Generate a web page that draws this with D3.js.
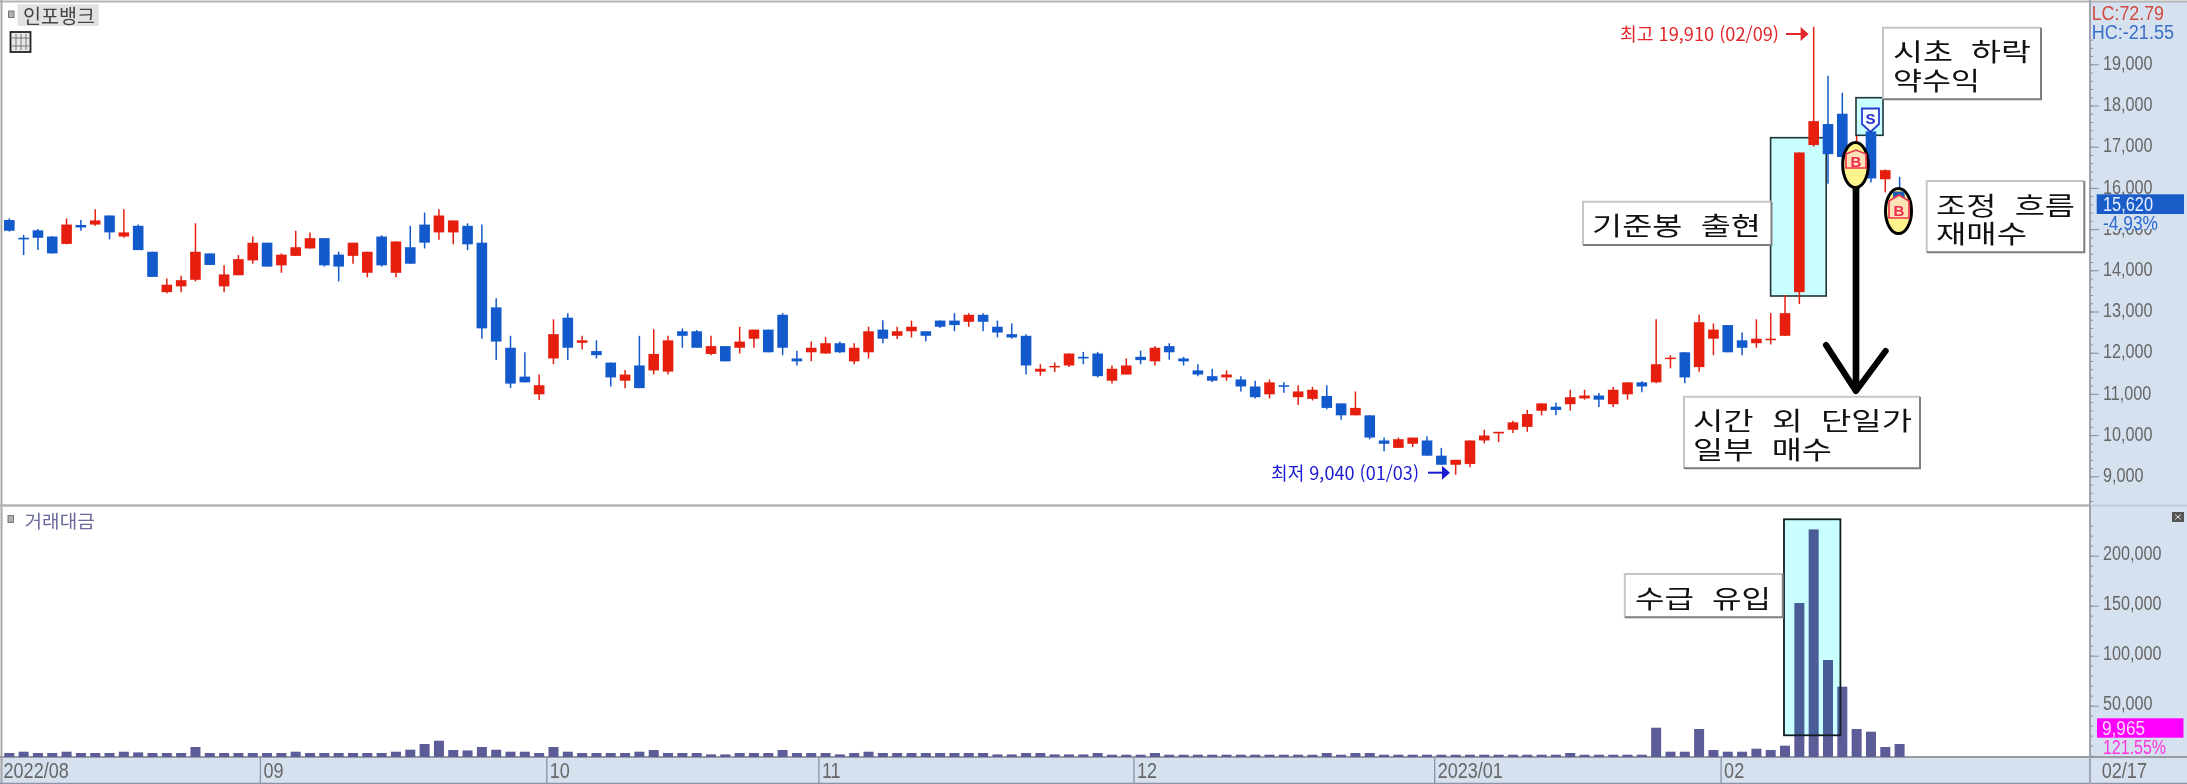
<!DOCTYPE html>
<html lang="ko"><head><meta charset="utf-8">
<script src="https://cdnjs.cloudflare.com/ajax/libs/d3/7.8.5/d3.min.js"></script>
<style>html,body{margin:0;padding:0;background:#fff;overflow:hidden}svg{display:block}</style>
</head><body><svg id="c" width="2187" height="784"></svg>
<script>
const opens=[15220,14790,14970,14820,14640,15100,15110,15330,14820,15080,14450,13470,13610,13770,14410,13610,13880,14240,14670,14120,14350,14530,14780,14380,14350,13940,14820,13940,14560,15110,14920,14920,15080,14670,13100,12120,11420,10990,11860,12850,12240,12040,11760,11320,11690,11570,11540,12520,12520,11970,12160,12120,12340,12560,12920,11860,12010,11980,12230,11790,12010,12560,12410,12520,12520,12780,12780,12750,12920,12630,12450,12410,11540,11650,11690,11900,11980,11320,11470,11900,11790,12160,11860,11570,11430,11400,11350,11180,10990,11210,10920,10880,10950,10770,10480,10480,9870,9690,9790,9870,9500,9280,9300,9870,10040,10130,10200,10590,10690,10750,10890,10960,10750,10990,11280,11280,11850,12010,11650,12340,12670,12300,12230,12310,12410,13470,17040,17550,17800,16560,17370,16210,15970];
const closes=[14960,14750,14790,14410,15110,15040,15210,14920,14920,14490,13840,13650,13760,14450,14130,13900,14270,14670,14090,14380,14560,14780,14120,14090,14670,14450,14120,14700,14160,14670,15330,15210,14630,12590,12270,11250,11280,11210,12450,12120,12300,11940,11400,11470,11140,11970,12300,12410,12120,12160,11790,12270,12560,12010,12120,11790,12120,12230,12010,12120,12520,12340,12520,12630,12410,12630,12670,12920,12750,12490,12370,11690,11610,11680,11980,11860,11430,11610,11690,11820,12120,12010,11790,11470,11320,11470,11180,10920,11280,11180,11060,11100,10660,10480,10660,9940,9790,9900,9940,9500,9280,9400,9870,9990,10080,10310,10510,10770,10610,10920,10960,10860,11100,11280,11180,11720,11880,11400,12740,12560,12010,12120,12340,12340,12960,16860,17620,16820,16750,17000,16230,16430,15620];
const highs=[15260,14860,15000,14830,15260,15220,15480,15330,15480,15110,14450,13800,13870,15140,14410,14120,14370,14820,14670,14410,14960,14920,14780,14450,14670,14450,14850,14700,15080,15400,15480,15210,15140,15110,13320,12410,12010,11470,12810,12960,12410,12300,11760,11580,12410,12570,12410,12590,12550,12410,12160,12630,12560,12560,12960,12050,12270,12380,12270,12230,12630,12790,12630,12780,12520,12780,12960,12960,12960,12780,12710,12450,11720,11760,11980,12020,12020,11690,11860,12050,12160,12230,11900,11720,11610,11570,11430,11320,11350,11280,11210,11170,11210,10770,11060,10480,9940,9940,9940,9970,9690,9400,9870,10130,10080,10350,10610,10770,10790,11100,11100,11020,11170,11280,11310,12810,11940,12010,12920,12710,12670,12490,12810,12960,13400,16860,19910,18720,18310,17260,17490,16450,16270];
const lows=[14940,14370,14490,14410,14630,14960,15080,14750,14790,14490,13840,13440,13470,13730,14130,13470,13880,14160,14090,13940,14350,14530,14090,13730,14160,13830,14090,13830,14160,14530,14740,14630,14490,12340,11820,11140,11280,10850,11720,11820,12080,11860,11180,11140,11140,11470,11470,12120,12120,11940,11790,11980,12120,12010,11940,11690,11790,11980,11990,11720,11860,12230,12330,12370,12270,12600,12520,12630,12520,12370,12340,11470,11440,11530,11650,11720,11400,11250,11470,11720,11690,11830,11690,11430,11290,11320,11060,10890,10890,11030,10730,10840,10630,10370,10480,9900,9610,9690,9710,9500,9280,9040,9220,9800,9830,10050,10080,10480,10480,10600,10860,10680,10680,10860,11040,11260,11620,11260,11540,11940,12010,11940,12120,12200,12410,13180,17000,16100,16560,16400,16130,15890,15620];
const volumes=[2700,4000,2700,2700,4000,2700,2700,2700,4000,3300,2700,2700,2700,8700,2700,2700,2700,2700,2700,2700,4000,2700,2700,2700,2700,2700,2700,4000,6000,11700,15000,5700,5300,8700,6000,4000,4000,2700,8700,4000,2700,2700,2700,2700,4000,5700,2700,2700,2700,1300,1300,2700,2700,2700,5700,2700,2700,2700,1300,2700,4000,2700,2700,2700,2700,2700,2700,2700,2700,1300,1300,2700,2700,1300,1300,1300,2700,1000,1000,1000,2700,1000,1000,1000,1000,1000,1000,1000,1000,1000,1000,1000,2700,1000,2700,2700,1000,1000,1000,1000,1000,1000,1000,1000,1000,1000,1000,1000,1000,2700,1000,1000,1000,1000,1000,28000,4000,4000,26700,5700,4000,4000,7000,5700,10000,152700,226300,95700,69000,26700,24000,8700,11700];
const monthStarts=[18,38,57,79,100,120];
const monthLabels=["09","10","11","12","2023/01","02"];
const firstLabel="2022/08", lastLabel="02/17";
const priceTicks=[9000,10000,11000,12000,13000,14000,15000,16000,17000,18000,19000];
const volumeTicks=[50000,100000,150000,200000];

const UI='"Liberation Sans",Arial,sans-serif', KR='"Noto Sans CJK KR","Noto Sans",sans-serif';
const RED='#e51e0e', BLUE='#1259cc', AXBG='#d6e1f0', TXT='#666';
const GAP='\u00a0\u00a0';
const svg=d3.select('#c');
const x=d3.scaleLinear().domain([0,132]).range([9.3,1899.6]);
const y=d3.scaleLinear().domain([9000,19000]).range([476.3,64.3]);
const yv=d3.scaleLinear().domain([0,230000]).range([755.7,525.7]);

// frame
svg.append('rect').attr('x',2090).attr('y',2).attr('width',97).attr('height',755).attr('fill',AXBG);
svg.append('rect').attr('x',0).attr('y',757).attr('width',2187).attr('height',26).attr('fill',AXBG);
const ln=(a,b,c,d,col,w)=>svg.append('line').attr('x1',a).attr('y1',b).attr('x2',c).attr('y2',d).attr('stroke',col).attr('stroke-width',w);
ln(0,1.5,2187,1.5,'#b4b4b4',2); ln(1.5,0,1.5,783,'#a8a8a8',2);
ln(0,505.5,2090,505.5,'#b4b4b4',2.5); ln(2090,505.5,2187,505.5,'#b9c3d2',1.5);
ln(0,757,2187,757,'#9a9aa4',2); ln(0,783.5,2187,783.5,'#8a93a4',1.5); ln(2090,0,2090,784,'#a0a4b0',2);

function txt(g,x1,x2,cy,s,size,fill,font,weight){
  const t=g.append('text').attr('x',x1).attr('y',cy).attr('dominant-baseline','central')
   .attr('font-family',font||KR).attr('font-size',size).attr('fill',fill).attr('font-weight',weight||400).text(s);
  if(x2!=null) t.attr('textLength',x2-x1).attr('lengthAdjust','spacingAndGlyphs');
  return t;
}
const root=svg.append('g');

// cyan highlight boxes beneath candles
function cyan(a,b,w,h){root.append('rect').attr('x',a).attr('y',b).attr('width',w).attr('height',h).attr('fill','#c9ffff').attr('stroke','#20343a').attr('stroke-width',1.6);}
cyan(1770.6,137.7,55.6,158.3);
cyan(1856,97.7,27,37.6);

// candles
const idx=d3.range(opens.length);
const cw=10.6;
const cg=root.append('g');
cg.selectAll('line').data(idx).join('line')
 .attr('x1',i=>x(i)).attr('x2',i=>x(i)).attr('y1',i=>y(highs[i])).attr('y2',i=>y(lows[i]))
 .attr('stroke',i=>closes[i]>=opens[i]?RED:BLUE).attr('stroke-width',1.5);
cg.selectAll('rect').data(idx).join('rect')
 .attr('x',i=>x(i)-cw/2).attr('width',cw)
 .attr('y',i=>y(Math.max(opens[i],closes[i])))
 .attr('height',i=>Math.max(1.5,Math.abs(y(opens[i])-y(closes[i]))))
 .attr('fill',i=>closes[i]>=opens[i]?RED:BLUE);

// volume bars + multiply box
root.append('g').selectAll('rect').data(idx).join('rect')
 .attr('x',i=>x(i)-5).attr('width',10)
 .attr('y',i=>yv(volumes[i])).attr('height',i=>757-yv(volumes[i])).attr('fill','#5c5c98');
root.append('rect').attr('x',1784).attr('y',519.3).attr('width',56.4).attr('height',216)
 .attr('fill','#c9ffff').style('mix-blend-mode','multiply');
root.append('rect').attr('x',1784).attr('y',519.3).attr('width',56.4).attr('height',216)
 .attr('fill','none').attr('stroke','#101c20').attr('stroke-width',1.8);

// axes
function ax(scale,vals,size,labels,tx,shift){
  const a=d3.axisRight(scale).tickValues(vals).tickSize(size).tickSizeOuter(0).tickPadding(4)
    .tickFormat(labels?d3.format(','):()=>'');
  const g=svg.append('g').attr('transform',`translate(${tx},0)`).call(a);
  g.select('.domain').remove();
  g.selectAll('line').attr('stroke','#8a8f9c').attr('stroke-width',1);
  g.selectAll('text').attr('font-family',UI).attr('font-size',19.5).attr('fill',TXT).attr('lengthAdjust','spacingAndGlyphs')
   .attr('y',shift||0)
   .attr('textLength',function(){return this.getComputedTextLength()*0.83;});
  return g;
}
ax(y,d3.range(8400,19800,200),3,false,2090);
ax(y,priceTicks,9,true,2090,-1);
ax(yv,d3.range(0,240000,10000),3,false,2090);
ax(yv,volumeTicks,9,true,2090,-2.3);

// date axis
const dAxis=d3.axisBottom(d3.scaleLinear().domain([0,132]).range([x(-0.5),x(131.5)]))
  .tickValues(monthStarts).tickSize(26).tickSizeOuter(0).tickPadding(0)
  .tickFormat((d,i)=>monthLabels[i]);
const dg=svg.append('g').attr('transform','translate(0,757)').call(dAxis);
dg.select('.domain').remove();
dg.selectAll('line').attr('stroke','#8a93a4').attr('stroke-width',1.3);
dg.selectAll('text').attr('font-family',UI).attr('font-size',22).attr('fill',TXT)
  .attr('text-anchor','start').attr('x',3).attr('y',13).attr('dy',0).attr('dominant-baseline','central')
  .attr('lengthAdjust','spacingAndGlyphs').attr('textLength',function(){return this.getComputedTextLength()*0.82;});
txt(svg,3.5,68.8,770,firstLabel,22,TXT,UI);
txt(svg,2101.7,2147,770,lastLabel,22,TXT,UI);

// right-hand readouts
txt(svg,2091.7,2164,13.3,'LC:72.79',19.5,'#d24a3c',UI);
txt(svg,2091.7,2174,31.7,'HC:-21.55',19.5,'#3a6fc8',UI);
svg.append('rect').attr('x',2096.7).attr('y',214).attr('width',87.3).attr('height',15).attr('fill',AXBG);
svg.append('rect').attr('x',2096.7).attr('y',194.3).attr('width',87.3).attr('height',19.7).attr('fill','#1a5dc8');
txt(svg,2103,2153,204,'15,620',19.5,'#e8f0ff',UI);
txt(svg,2103,2158,222.5,'-4.93%',19.5,'#2a6ad0',UI);
svg.append('rect').attr('x',2097).attr('y',718.3).attr('width',86.5).attr('height',19.4).attr('fill','#ff00ff');
txt(svg,2102,2145,728,'9,965',19.5,'#ffd6ff',UI);
txt(svg,2103,2166,746.7,'121.55%',19.5,'#ff33dd',UI);
svg.append('rect').attr('x',2172).attr('y',512).attr('width',12).attr('height',10).attr('fill','#555');
svg.append('path').attr('d','M2175,514.5l6,5m0,-5l-6,5').attr('stroke','#ddd').attr('stroke-width',1);

// panel titles
const sq=(a,b,w,h)=>svg.append('rect').attr('x',a).attr('y',b).attr('width',w).attr('height',h).attr('fill','#b0b0b0').attr('stroke','#777');
sq(8.5,11,5.5,6.5);
svg.append('rect').attr('x',17.7).attr('y',4.3).attr('width',81).attr('height',21.7).attr('fill','#e2e2e2');
txt(svg,23,95,15,'인포뱅크',20,'#444');
svg.append('rect').attr('x',10.5).attr('y',32).attr('width',20).attr('height',20).attr('fill','#e8e8e8').attr('stroke','#222').attr('stroke-width',1.8);
svg.append('path').attr('d','M16,34V50M21,34V50M26,34V50M12,38H29M12,46H29').attr('stroke','#777').attr('stroke-width',1).attr('fill','none');
sq(8,515.5,5.5,7);
txt(svg,24.6,94.7,519.5,'거래대금',18,'#6a6a9a');

// high/low labels
function arrow(a,b,yy,col){
  svg.append('path').attr('d',`M${a},${yy}H${b-6}`).attr('stroke',col).attr('stroke-width',2);
  svg.append('path').attr('d',`M${b-8},${yy-7}L${b},${yy}L${b-8},${yy+7}Z`).attr('fill',col);
}
txt(svg,1620,1779,33,'최고 19,910 (02/09)',18,'#e2262c');
arrow(1786,1808.6,34,'#e2262c');
txt(svg,1271,1419,471.7,'최저 9,040 (01/03)',18,'#1a1ad0');
arrow(1428,1450,472.7,'#1a1ad0');

// note boxes
function note(a,b,a2,b2,lines){
  svg.append('rect').attr('x',a).attr('y',b).attr('width',a2-a).attr('height',b2-b).attr('fill','#fff');
  svg.append('path').attr('d',`M${a},${b2}V${b}H${a2}`).attr('fill','none').attr('stroke','#c6c6c6').attr('stroke-width',2);
  svg.append('path').attr('d',`M${a},${b2}H${a2}V${b}`).attr('fill','none').attr('stroke','#7e7e7e').attr('stroke-width',2);
  lines.forEach(l=>txt(svg,l[0],l[1],l[2],l[3],25,'#111'));
}
note(1883,27.7,2041,99.3,[[1893,2031,50,'시초'+GAP+'하락'],[1893,1980,79.3,'약수익']]);
note(1926.7,181,2084.3,252.3,[[1936,2075,204,'조정'+GAP+'흐름'],[1936,2027,232.3,'재매수']]);
note(1583,201.7,1771.5,245,[[1592,1761,224,'기준봉'+GAP+'출현']]);
note(1684,396.7,1920,468.3,[[1693,1912,419.3,'시간'+GAP+'외'+GAP+'단일가'],[1693,1832,448.3,'일부'+GAP+'매수']]);
note(1624.8,574,1782.8,617.3,[[1635,1771,596.7,'수급'+GAP+'유입']]);

// black arrow
svg.append('path').attr('d','M1856,186V388').attr('stroke','#000').attr('stroke-width',6.7).attr('fill','none');
svg.append('path').attr('d','M1826,345L1856,391L1885.6,351').attr('stroke','#000').attr('stroke-width',6.2).attr('fill','none').attr('stroke-linejoin','round').attr('stroke-linecap','round');

// buy/sell markers
function oval(cx,cy,rx,ry){svg.append('ellipse').attr('cx',cx).attr('cy',cy).attr('rx',rx).attr('ry',ry).attr('fill','#fdf58c').attr('stroke','#000').attr('stroke-width',3);}
oval(1855.5,165,12.8,22.5);
oval(1898.5,211,13,22.5);
svg.append('path').attr('d','M1893,191.5h11l1,6l-6,4l-6,-4z').attr('fill','#1b5fb4');
function bmark(l,r,t,p,b,lbl){
  const c=(l+r)/2;
  svg.append('path').attr('d',`M${l},${p}L${c},${t}L${r},${p}V${b}H${l}Z`).attr('fill','#fce2b4').attr('stroke','#f0304e').attr('stroke-width',1.6);
  svg.append('text').attr('x',c).attr('y',(p+b)/2+0.5).attr('text-anchor','middle').attr('dominant-baseline','central')
    .attr('font-family',UI).attr('font-weight',700).attr('font-size',15).attr('fill','#ee2a50').text(lbl);
}
bmark(1846,1866,150,154,168,'B');
bmark(1889,1909,195,201,218,'B');
// S marker
svg.append('path').attr('d','M1862,108.5H1879V124L1870.5,132L1862,124Z').attr('fill','#f4fbff').attr('stroke','#2a3cd0').attr('stroke-width',1.8);
svg.append('text').attr('x',1870.5).attr('y',118).attr('text-anchor','middle').attr('dominant-baseline','central')
  .attr('font-family',UI).attr('font-weight',700).attr('font-size',15).attr('fill','#2a2ad0').text('S');
</script></body></html>
